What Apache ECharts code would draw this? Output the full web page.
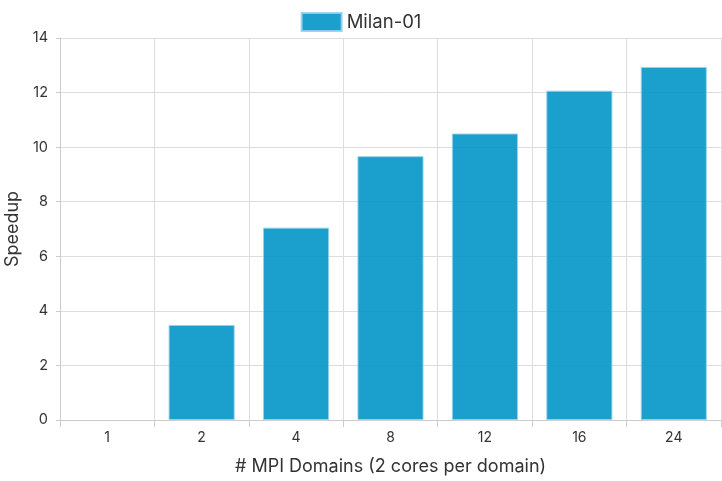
<!DOCTYPE html>
<html><head><meta charset="utf-8">
<script src="https://cdn.jsdelivr.net/npm/echarts@6/dist/echarts.min.js"></script>
<style>html,body{margin:0;padding:0;background:#fff}#c{width:722px;height:481px}</style>
</head><body><div id="c"></div>
<script>
const categories = ['1','2','4','8','12','16','24'];
const seriesName = 'Milan-01';
const speedup = [null, 3.48, 7.05, 9.67, 10.5, 12.07, 12.94];
const yTicks = [0, 2, 4, 6, 8, 10, 12, 14];

const chart = echarts.init(document.getElementById('c'), null, {renderer:'canvas'});
const font = 'Inter';
chart.setOption({
  animation:false,
  textStyle:{fontFamily:font},
  legend:{top:7, left:'center', icon:'rect', itemWidth:40, itemHeight:18, itemGap:10,
    textStyle:{fontFamily:font, fontSize:18.5, color:'#333'}, data:[seriesName]},
  grid:{left:60, right:1, top:38, bottom:61, containLabel:false, outerBoundsMode:'none'},
  xAxis:{type:'category', data:categories,
    name:'# MPI Domains (2 cores per domain)', nameLocation:'middle', nameGap:38,
    nameTextStyle:{fontFamily:font, fontSize:18, color:'#333'},
    axisLine:{lineStyle:{color:'#ccc'}},
    axisTick:{show:true, length:7, lineStyle:{color:'#ccc'}},
    axisLabel:{fontFamily:font, fontSize:14, color:'#333', margin:11},
    splitLine:{show:true, lineStyle:{color:'#ddd'}}},
  yAxis:{type:'value', min:yTicks[0], max:yTicks[yTicks.length-1], interval:2,
    name:'Speedup', nameLocation:'middle', nameGap:35,
    nameTextStyle:{fontFamily:font, fontSize:18, color:'#333'},
    axisLine:{show:true, lineStyle:{color:'#ccc'}},
    axisTick:{show:true, length:4, lineStyle:{color:'#ccc'}},
    axisLabel:{fontFamily:font, fontSize:14.5, color:'#333', margin:12},
    splitLine:{show:true, lineStyle:{color:'#ddd'}}},
  series:[{type:'bar', name:seriesName, data:speedup, barCategoryGap:'30%',
    itemStyle:{color:'rgba(2,149,198,0.9)', borderColor:'rgba(150,210,235,0.9)', borderWidth:1}}]
});
</script></body></html>
